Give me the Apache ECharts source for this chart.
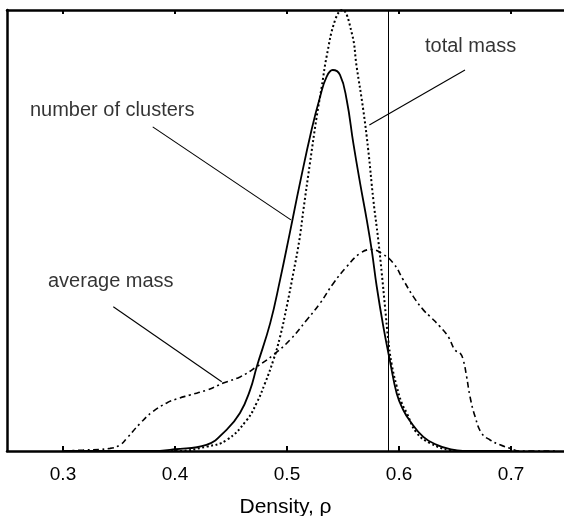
<!DOCTYPE html>
<html>
<head>
<meta charset="utf-8">
<script src="https://cdn.jsdelivr.net/npm/echarts@6/dist/echarts.min.js"></script>
<style>
  html, body { margin: 0; padding: 0; background: #fff; }
  #chart { width: 564px; height: 516px; }
</style>
</head>
<body>
<div id="chart"></div>
<script>
// Density distributions (arbitrary vertical units), x = packing density rho
const numberOfClusters = [
  [0.300, 0], [0.378, 0], [0.400, 0.004], [0.428, 0.014], [0.446, 0.048], [0.458, 0.086],
  [0.467, 0.138], [0.473, 0.191], [0.485, 0.290], [0.4938, 0.388], [0.5027, 0.497],
  [0.5116, 0.608], [0.5221, 0.730], [0.5295, 0.803], [0.5354, 0.849],
  [0.5408, 0.864], [0.5473, 0.853], [0.5533, 0.796], [0.5592, 0.698], [0.5652, 0.608],
  [0.5712, 0.524], [0.5756, 0.456], [0.5801, 0.373], [0.586, 0.282], [0.592, 0.203],
  [0.598, 0.130], [0.6038, 0.093], [0.6098, 0.068], [0.6217, 0.032], [0.6337, 0.014],
  [0.6455, 0.004], [0.657, 0], [0.700, 0]
];

const totalMass = [
  [0.300, 0], [0.4015, 0], [0.4283, 0.010], [0.4462, 0.025], [0.464, 0.070], [0.4729, 0.109],
  [0.4804, 0.154], [0.4878, 0.206], [0.4938, 0.259], [0.4997, 0.327], [0.5056, 0.403],
  [0.511, 0.478], [0.5146, 0.546], [0.5205, 0.653], [0.5265, 0.758], [0.531, 0.826],
  [0.5354, 0.895], [0.5429, 0.977], [0.5491, 1.0], [0.5578, 0.948], [0.5622, 0.871],
  [0.5681, 0.773], [0.5725, 0.683], [0.5771, 0.569], [0.5815, 0.478], [0.5846, 0.403],
  [0.5875, 0.327], [0.5904, 0.252], [0.5935, 0.196], [0.598, 0.146], [0.6024, 0.109],
  [0.6069, 0.086], [0.6158, 0.041], [0.6277, 0.018], [0.6455, 0.002], [0.657, 0], [0.700, 0]
];

const averageMass = [
  [0.300, 0], [0.318, 0.002], [0.342, 0.006], [0.351, 0.014], [0.357, 0.029], [0.369, 0.063],
  [0.380, 0.089], [0.3926, 0.109], [0.4015, 0.118], [0.4134, 0.127], [0.4283, 0.138],
  [0.4431, 0.154], [0.458, 0.168], [0.4729, 0.191], [0.4878, 0.218], [0.5027, 0.252],
  [0.5176, 0.297], [0.5295, 0.335], [0.5413, 0.380], [0.5533, 0.418], [0.5652, 0.448],
  [0.5756, 0.457], [0.5846, 0.448], [0.5949, 0.426], [0.6038, 0.388], [0.6128, 0.350],
  [0.6217, 0.320], [0.6277, 0.305], [0.6366, 0.282], [0.644, 0.259], [0.650, 0.229],
  [0.6545, 0.222], [0.6574, 0.206], [0.6604, 0.168], [0.6634, 0.123], [0.6679, 0.078],
  [0.6738, 0.040], [0.6813, 0.025], [0.6902, 0.014], [0.6991, 0.006], [0.708, 0], [0.740, 0]
];

// Random close packing density marker
const rcpDensity = 0.5935;

const xTicks = [0.3, 0.4, 0.5, 0.6, 0.7];
const xAxisTitle = 'Density, \u03c1';

// Curve labels: text anchor and leader line (from, to), in data units
const labelTexts = ['number of clusters', 'average mass', 'total mass'];
const labelAnchors = [[0.2705, 0.773], [0.2866, 0.384], [0.6232, 0.917]];
const leaderLines = [
  [[0.3801, 0.735], [0.5035, 0.524]],
  [[0.3449, 0.327], [0.4417, 0.157]],
  [[0.6589, 0.864], [0.5735, 0.739]]
];

const ink = '#000';
const font = 'Liberation Sans, Arial, Helvetica, sans-serif';

const chart = echarts.init(document.getElementById('chart'), null, { renderer: 'canvas' });

const curve = (name, data, type, width) => ({
  name, type: 'line', data, smooth: 0.45, showSymbol: false, silent: true,
  xAxisIndex: 0, yAxisIndex: 0, z: 3,
  lineStyle: { color: ink, width, type, cap: 'butt' }
});

const series = [
  curve('number of clusters', numberOfClusters, 'solid', 1.8),
  curve('total mass', totalMass, [2, 2.5], 2),
  curve('average mass', averageMass, [6, 3.5, 2, 3.5], 1.6)
];

// vertical reference line
series.push({
  type: 'line', data: [], silent: true,
  markLine: {
    symbol: 'none', silent: true, label: { show: false },
    lineStyle: { color: ink, width: 1, type: 'solid' },
    data: [{ xAxis: rcpDensity }]
  }
});

leaderLines.forEach(seg => {
  series.push({
    type: 'line', data: seg, showSymbol: false, silent: true, z: 4,
    lineStyle: { color: ink, width: 1.1, type: 'solid' }
  });
});

series.push({
  type: 'scatter', symbolSize: 0, silent: true,
  data: labelAnchors.map((p, i) => ({ value: p, name: labelTexts[i] })),
  label: {
    show: true, position: 'right', distance: 0, formatter: p => p.name,
    color: ink, fontSize: 20, fontFamily: font
  }
});

chart.setOption({
  animation: false,
  backgroundColor: '#fff',
  grid: { left: 7, right: 0, top: 10, bottom: 65, outerBoundsMode: 'none', containLabel: false },
  xAxis: [{
    type: 'value', min: 0.25, max: 0.7473, interval: 0.05,
    position: 'bottom',
    axisLine: { show: true, lineStyle: { color: ink, width: 2.5 } },
    axisTick: { show: true, inside: true, length: 5, lineStyle: { color: ink, width: 2 },
      customValues: xTicks },
    axisLabel: { show: true, margin: 14, color: ink, fontSize: 19, fontFamily: font,
      customValues: xTicks, formatter: v => v.toFixed(1) },
    splitLine: { show: false },
    name: xAxisTitle, nameLocation: 'middle', nameGap: 46,
    nameTextStyle: { color: ink, fontSize: 21, fontFamily: font }
  }, {
    type: 'value', min: 0.25, max: 0.7473, interval: 0.05,
    position: 'top',
    axisLine: { show: true, lineStyle: { color: ink, width: 2.5 } },
    axisTick: { show: true, inside: true, length: 4, lineStyle: { color: ink, width: 2 },
      customValues: xTicks },
    axisLabel: { show: false },
    splitLine: { show: false }
  }],
  yAxis: {
    type: 'value', min: 0, max: 1,
    axisLine: { show: true, lineStyle: { color: ink, width: 2.5 } },
    axisTick: { show: false }, axisLabel: { show: false }, splitLine: { show: false }
  },
  series
});
</script>
</body>
</html>
